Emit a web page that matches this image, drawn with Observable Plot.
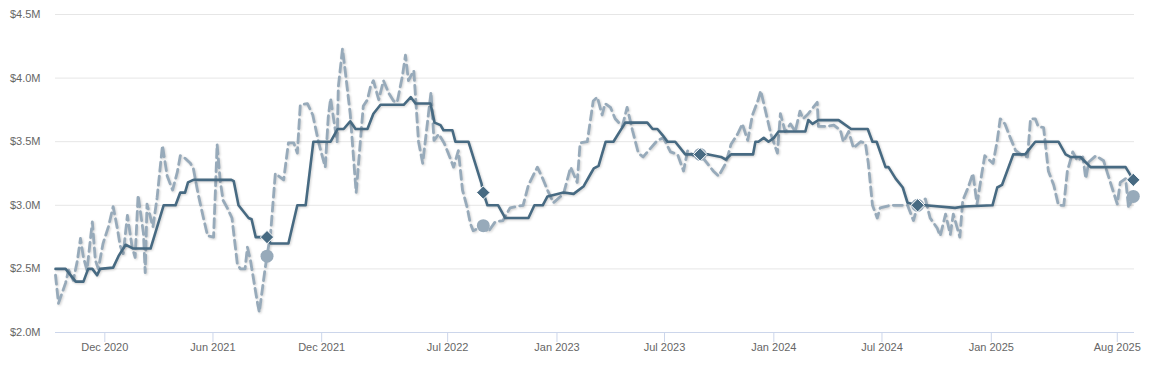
<!DOCTYPE html>
<html><head><meta charset="utf-8">
<script src="https://cdn.jsdelivr.net/npm/d3@7"></script>
<script src="https://cdn.jsdelivr.net/npm/@observablehq/plot@0.6"></script>
<style>
html,body{margin:0;padding:0;background:#fff;}
#chart svg{display:block;}
.shadow path{filter:drop-shadow(1px 1px 1px rgba(0,0,0,0.18));}
</style></head><body><div id="chart"></div>
<script>
// Smoothed (solid) series
const trendDates = ["2020-09-09","2020-09-26","2020-10-13","2020-10-26","2020-11-03","2020-11-10","2020-11-18","2020-11-23","2020-12-15","2020-12-24",
"2021-01-05","2021-01-18","2021-02-16","2021-03-10","2021-03-30","2021-04-07","2021-04-15","2021-04-20","2021-04-29","2021-07-02",
"2021-07-06","2021-07-14","2021-07-31","2021-08-05","2021-08-12","2021-08-20","2021-08-31","2021-09-06","2021-10-06","2021-10-21",
"2021-11-04","2021-11-17","2021-12-16","2021-12-28","2022-01-07","2022-01-18","2022-01-27","2022-02-16","2022-02-26","2022-03-10",
"2022-04-18","2022-04-30","2022-05-08","2022-06-02","2022-06-09","2022-06-19","2022-06-24","2022-07-09","2022-07-14","2022-08-05",
"2022-08-27","2022-08-30","2022-09-06","2022-09-24","2022-10-06","2022-11-14","2022-11-24","2022-12-08","2022-12-16","2023-01-12",
"2023-01-29","2023-02-15","2023-02-27","2023-03-04","2023-03-12","2023-03-24","2023-04-06","2023-04-26","2023-06-02","2023-06-11",
"2023-06-19","2023-06-28","2023-07-06","2023-07-19","2023-08-05","2023-08-14","2023-08-30","2023-09-13","2023-10-04","2023-10-12",
"2023-10-21","2023-11-27","2023-12-01","2023-12-06","2023-12-15","2023-12-23","2024-01-01","2024-01-09","2024-02-23","2024-02-28",
"2024-03-06","2024-03-16","2024-04-19","2024-05-10","2024-06-07","2024-06-15","2024-06-22","2024-07-07","2024-07-12","2024-07-24",
"2024-08-05","2024-08-13","2024-08-30","2024-09-12","2024-11-01","2024-11-15","2025-01-03","2025-01-11","2025-01-19","2025-02-07",
"2025-02-27","2025-03-16","2025-04-24","2025-05-06","2025-05-14","2025-05-31","2025-06-17","2025-08-15","2025-08-28"];
const trendValues = [2.50,2.50,2.40,2.40,2.50,2.50,2.45,2.50,2.51,2.60,
2.69,2.66,2.66,3.00,3.00,3.10,3.10,3.18,3.20,3.20,
3.19,3.00,2.90,2.89,2.75,2.75,2.75,2.70,2.70,3.00,
3.00,3.50,3.50,3.60,3.60,3.66,3.60,3.60,3.72,3.79,
3.79,3.85,3.80,3.80,3.65,3.63,3.59,3.59,3.50,3.50,
3.17,3.10,3.00,3.00,2.90,2.90,3.00,3.00,3.07,3.10,
3.09,3.15,3.25,3.29,3.31,3.50,3.50,3.65,3.65,3.60,
3.60,3.55,3.50,3.50,3.40,3.40,3.40,3.40,3.38,3.36,
3.40,3.40,3.50,3.50,3.53,3.50,3.53,3.58,3.58,3.67,
3.64,3.67,3.67,3.60,3.60,3.50,3.50,3.30,3.30,3.21,
3.14,3.02,3.00,3.00,2.98,2.99,3.00,3.14,3.16,3.40,
3.40,3.50,3.50,3.40,3.38,3.38,3.30,3.30,3.20];

// Raw (dashed) series
const rawDates = ["2020-09-09","2020-09-14","2020-09-26","2020-10-01","2020-10-09","2020-10-16","2020-10-21","2020-10-26","2020-11-01","2020-11-10",
"2020-11-15","2020-11-20","2020-11-28","2020-12-07","2020-12-15","2020-12-22","2020-12-27","2021-01-01","2021-01-08","2021-01-16",
"2021-01-21","2021-01-26","2021-02-04","2021-02-07","2021-02-10","2021-02-20","2021-02-27","2021-03-08","2021-03-16","2021-03-25",
"2021-04-02","2021-04-07","2021-04-15","2021-04-24","2021-04-29","2021-05-07","2021-05-16","2021-05-23","2021-06-02","2021-06-05",
"2021-06-08","2021-06-13","2021-06-18","2021-06-25","2021-07-03","2021-07-12","2021-07-17","2021-07-25","2021-07-29","2021-08-03",
"2021-08-15","2021-08-18","2021-08-28","2021-08-31","2021-09-06","2021-09-14","2021-09-28","2021-10-06","2021-10-15","2021-10-21",
"2021-10-26","2021-11-07","2021-11-16","2021-11-26","2021-12-07","2021-12-12","2021-12-16","2021-12-21","2021-12-27","2021-12-29",
"2022-01-05","2022-01-10","2022-01-18","2022-01-28","2022-02-09","2022-02-16","2022-02-21","2022-02-26","2022-03-07","2022-03-15",
"2022-03-24","2022-04-01","2022-04-07","2022-04-16","2022-04-21","2022-04-26","2022-05-05","2022-05-13","2022-05-20","2022-05-25",
"2022-06-03","2022-06-08","2022-06-16","2022-06-25","2022-07-02","2022-07-11","2022-07-19","2022-07-26","2022-08-03","2022-08-08",
"2022-08-13","2022-08-30","2022-09-07","2022-09-19","2022-10-02","2022-10-14","2022-11-05","2022-11-14","2022-11-29","2022-12-08",
"2022-12-16","2022-12-26","2023-01-12","2023-01-24","2023-02-04","2023-02-09","2023-02-21","2023-03-03","2023-03-10","2023-03-18",
"2023-03-23","2023-04-01","2023-04-09","2023-04-21","2023-04-29","2023-05-08","2023-05-18","2023-05-26","2023-06-04","2023-06-19",
"2023-06-29","2023-07-11","2023-07-23","2023-08-02","2023-08-09","2023-08-19","2023-08-30","2023-09-11","2023-09-21","2023-09-30",
"2023-10-12","2023-10-21","2023-11-01","2023-11-09","2023-11-18","2023-11-26","2023-12-05","2023-12-10","2023-12-18","2023-12-27",
"2024-01-07","2024-01-12","2024-01-20","2024-01-29","2024-02-06","2024-02-14","2024-02-19","2024-02-28","2024-03-14","2024-03-16",
"2024-03-31","2024-04-11","2024-04-22","2024-04-27","2024-05-06","2024-05-14","2024-05-26","2024-06-03","2024-06-08","2024-06-15",
"2024-06-23","2024-06-28","2024-07-15","2024-08-13","2024-08-23","2024-08-30","2024-09-12","2024-09-20","2024-10-02","2024-10-07",
"2024-10-16","2024-10-24","2024-10-29","2024-11-09","2024-11-14","2024-11-23","2024-12-01","2024-12-08","2024-12-16","2024-12-21",
"2024-12-30","2025-01-04","2025-01-11","2025-01-16","2025-01-24","2025-02-02","2025-02-11","2025-02-23","2025-03-03","2025-03-08",
"2025-03-16","2025-03-21","2025-03-30","2025-04-07","2025-04-16","2025-04-24","2025-05-03","2025-05-09","2025-05-18","2025-05-26",
"2025-06-04","2025-06-09","2025-06-14","2025-06-26","2025-07-09","2025-07-21","2025-08-01","2025-08-06","2025-08-15","2025-08-20",
"2025-08-28"];
const rawValues = [2.45,2.23,2.39,2.49,2.41,2.57,2.74,2.59,2.49,2.87,
2.57,2.50,2.70,2.83,2.99,2.82,2.68,2.62,2.92,2.67,
2.59,3.08,2.78,2.47,3.01,2.83,3.06,3.47,3.23,3.12,
3.26,3.39,3.37,3.33,3.29,3.09,2.90,2.76,2.75,3.10,
3.48,3.20,3.04,2.98,2.90,2.54,2.50,2.50,2.67,2.57,
2.23,2.16,2.51,2.60,2.78,3.25,3.20,3.49,3.49,3.41,
3.79,3.80,3.71,3.49,3.30,3.69,3.84,3.68,3.50,3.93,
4.23,4.04,3.72,3.10,3.78,3.83,3.93,3.98,3.83,3.98,
3.88,3.82,3.81,4.02,4.18,3.98,4.06,3.50,3.33,3.53,
3.89,3.51,3.56,3.49,3.41,3.30,3.43,3.12,2.98,2.86,
2.80,2.84,2.79,2.87,2.88,2.98,3.00,3.16,3.30,3.21,
3.12,3.02,3.09,3.30,3.18,3.49,3.50,3.82,3.85,3.71,
3.80,3.77,3.68,3.62,3.77,3.59,3.41,3.38,3.43,3.51,
3.53,3.42,3.40,3.27,3.43,3.39,3.40,3.33,3.27,3.23,
3.33,3.48,3.56,3.64,3.51,3.71,3.82,3.90,3.74,3.56,
3.41,3.72,3.58,3.64,3.58,3.74,3.68,3.72,3.81,3.62,
3.62,3.63,3.59,3.50,3.58,3.45,3.50,3.49,3.33,3.00,
2.90,2.98,3.00,3.00,2.88,3.00,3.05,2.90,2.82,2.76,
2.93,2.77,2.93,2.75,3.04,3.14,3.25,3.01,3.25,3.39,
3.35,3.33,3.51,3.68,3.64,3.53,3.43,3.39,3.38,3.68,
3.68,3.62,3.61,3.27,3.16,3.00,3.00,3.27,3.42,3.35,
3.38,3.21,3.34,3.39,3.35,3.17,3.01,3.18,3.21,2.98,
3.07];

// Yearly markers
const markerDates = ["2021-08-31","2022-08-30","2023-08-30","2024-08-30","2025-08-28"];

// Axis ticks
const xTickDates = ["2020-12-01","2021-06-01","2021-12-01","2022-07-01","2023-01-01","2023-07-01","2024-01-01","2024-07-01","2025-01-01","2025-08-01"];
const yTicks = [2.0, 2.5, 3.0, 3.5, 4.0, 4.5];

const parse = d3.utcParse("%Y-%m-%d");
const trend = trendDates.map((d, i) => ({date: parse(d), value: trendValues[i]}));
const raw = rawDates.map((d, i) => ({date: parse(d), value: rawValues[i]}));
const trendMarks = markerDates.map(d => trend[trendDates.indexOf(d)]);
const rawMarks = markerDates.map(d => raw[rawDates.indexOf(d)]);

const dark = "#476a82";
const light = "#97aaba";

const chart = Plot.plot({
  width: 1158,
  height: 367,
  marginLeft: 55,
  marginRight: 24,
  marginTop: 14,
  marginBottom: 35,
  style: {fontFamily: "'Liberation Sans', Arial, sans-serif", fontSize: "11px", color: "#666", background: "#fff"},
  x: {type: "utc", domain: [parse("2020-09-09"), parse("2025-08-30")]},
  y: {domain: [2.0, 4.5]},
  marks: [
    Plot.gridY(yTicks, {stroke: "#e6e6e6", strokeOpacity: 1}),
    Plot.ruleY([2.0], {stroke: "#ccd6eb", strokeWidth: 1}),
    Plot.axisY(yTicks, {tickSize: 0, tickPadding: 15, tickFormat: d => `$${d.toFixed(1)}M`, fill: "#666", label: null, fontSize: 11}),
    Plot.axisX(xTickDates.map(parse), {tickSize: 10, tickPadding: 1, stroke: "#ccd6eb", tickFormat: d3.utcFormat("%b %Y"), fill: "#666", label: null, fontSize: 11}),
    Plot.lineY(raw, {x: "date", y: "value", stroke: light, strokeWidth: 2.8, strokeDasharray: "9,5", className: "shadow"}),
    Plot.lineY(trend, {x: "date", y: "value", stroke: dark, strokeWidth: 2.6, strokeLinejoin: "round", className: "shadow"}),
    Plot.dot(rawMarks, {x: "date", y: "value", r: 6.5, fill: light, stroke: "none"}),
    Plot.dot(trendMarks, {x: "date", y: "value", symbol: "diamond2", r: 6, fill: dark, stroke: "#fff", strokeWidth: 1})
  ]
});
document.getElementById("chart").appendChild(chart);
</script>
</body></html>
